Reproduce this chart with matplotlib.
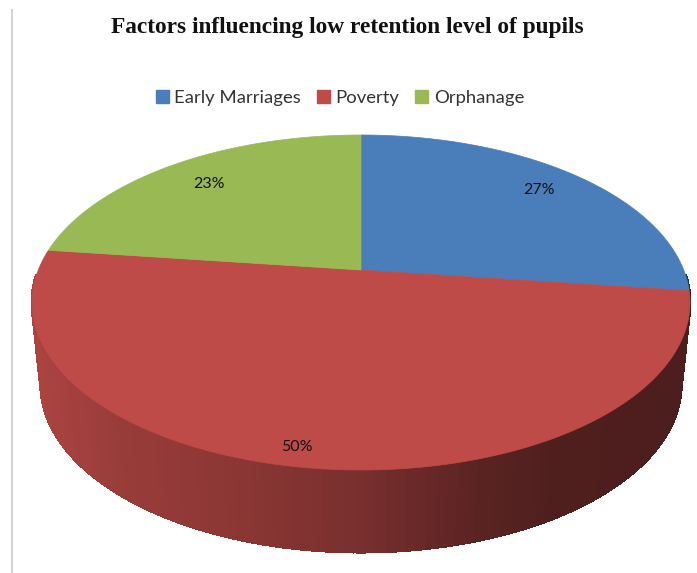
import numpy as np
import matplotlib
matplotlib.use('Agg')
import matplotlib.pyplot as plt
from matplotlib.patches import Patch

title = 'Factors influencing low retention level of pupils'
categories = ['Early Marriages', 'Poverty', 'Orphanage']
shares = [27, 50, 23]
colors = ['#4A7EBB', '#BE4B48', '#98B954']


def project(theta):
    # perspective view of the unit disc, the hub sits above the ellipse centre
    u = np.cos(theta)
    v = np.sin(theta)
    k = 0.194
    d = 1 + k * v
    return 361 + 322.7 * u / d, 270 - 161.2 * v / d


def shade(col, x):
    # side wall gets darker going left to right
    f = np.interp(x, [32, 120, 250, 361, 480, 560, 690],
                  [0.90, 0.80, 0.72, 0.63, 0.47, 0.41, 0.40])
    rgb = np.array(matplotlib.colors.to_rgb(col))
    return tuple(rgb * f)


fig = plt.figure(figsize=(6.97, 5.73), dpi=100)
ax = fig.add_axes([0, 0, 1, 1])
ax.set_xlim(0, 697)
ax.set_ylim(573, 0)
ax.axis('off')

ax.plot([12, 12], [10, 573], color='#d4d4d4', lw=1.5)

# slice angles, clockwise from twelve o'clock
edges = np.pi / 2 - 2 * np.pi * np.cumsum([0] + shares) / sum(shares)

# side wall first, the top covers what is hidden
for i, col in enumerate(colors):
    t0, t1 = edges[i], edges[i + 1]
    steps = np.linspace(t0, t1, 121)
    for a, b in zip(steps[:-1], steps[1:]):
        if np.sin((a + b) / 2) > -0.02:
            continue
        xa, ya = project(a)
        xb, yb = project(b)
        qx = [xa, xb, 361 + (xb - 361) * 0.973, 361 + (xa - 361) * 0.973]
        qy = [ya, yb, yb + 82, ya + 82]
        c = shade(col, (xa + xb) / 2)
        ax.fill(qx, qy, color=c, lw=1.5, antialiased=False)

# top of the pie
for i, col in enumerate(colors):
    t = np.linspace(edges[i], edges[i + 1], 200)
    x, y = project(t)
    ax.fill(np.r_[361, x], np.r_[270, y], color=col, lw=0.5)

label_pos = [(539, 190), (297, 447), (209, 184)]
for (lx, ly), s in zip(label_pos, shares):
    ax.text(lx, ly, '%d%%' % s, ha='center', va='center', fontsize=11.5,
            family='Lato', color='#111111')

ax.text(347, 28, title, ha='center', va='center', fontsize=16.8,
        family='Liberation Serif', weight='bold', color='#111111')

handles = [Patch(color=c, label=n) for c, n in zip(colors, categories)]
ax.legend(handles=handles, ncol=3, loc='center', bbox_to_anchor=(340 / 697, 1 - 98 / 573),
          frameon=False, prop={'family': 'Lato', 'size': 13.3}, handlelength=0.7,
          handleheight=0.7, handletextpad=0.3, columnspacing=0.87, labelcolor='#333333')

fig.savefig('out.png', dpi=100)
